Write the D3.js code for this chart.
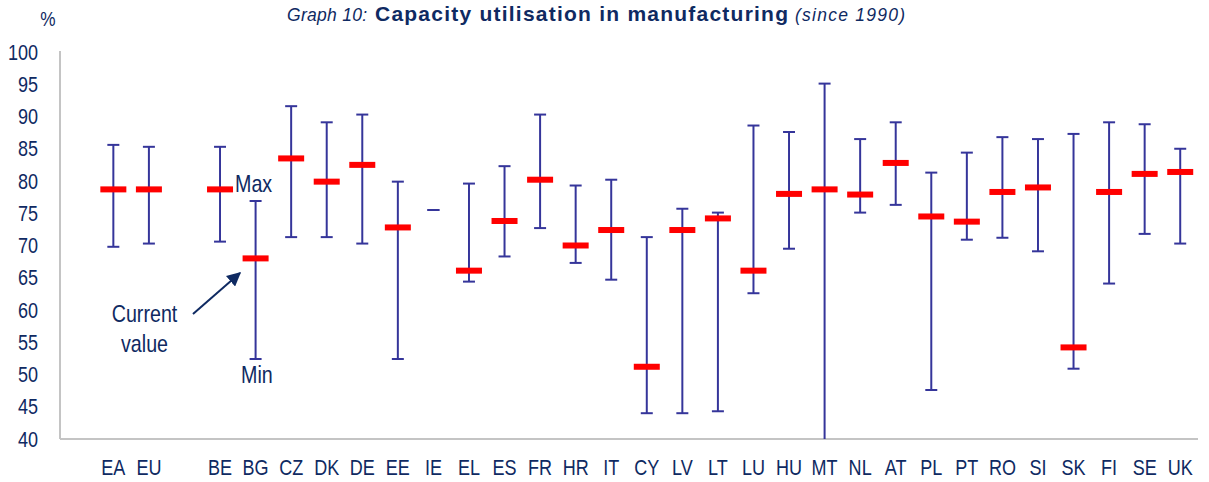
<!DOCTYPE html>
<html>
<head>
<meta charset="utf-8">
<script src="https://cdn.jsdelivr.net/npm/d3@7"></script>
<style>
  html, body { margin: 0; padding: 0; background: #ffffff; }
  svg { display: block; }
  text { font-family: "Liberation Sans", Arial, sans-serif; fill: #0f2a62; }
</style>
</head>
<body>
<svg id="chart" width="1209" height="482"></svg>
<script>
// ---- data ----
const categories = ["EA","EU","","BE","BG","CZ","DK","DE","EE","IE","EL","ES","FR","HR","IT","CY","LV","LT","LU","HU","MT","NL","AT","PL","PT","RO","SI","SK","FI","SE","UK"];
const maxValues  = [85.6,85.3,null,85.3,76.9,91.6,89.1,90.3,79.9,75.5,79.6,82.3,90.3,79.3,80.2,71.3,75.7,75.1,88.6,87.6,95.1,86.5,89.1,81.3,84.4,86.8,86.5,87.3,89.1,88.8,85.0];
const minValues  = [69.8,70.3,null,70.6,52.4,71.3,71.3,70.3,52.4,75.5,64.4,68.3,72.7,67.3,64.7,44.0,44.0,44.3,62.6,69.5,36.0,75.1,76.3,47.6,70.9,71.2,69.1,50.9,64.1,71.8,70.3];
const currentValues = [78.7,78.7,null,78.7,68.0,83.5,79.9,82.5,72.8,null,66.1,73.8,80.2,70.0,72.4,51.2,72.4,74.2,66.1,78.0,78.7,77.9,82.8,74.5,73.7,78.3,79.0,54.2,78.3,81.1,81.4];
const yTicks = [40,45,50,55,60,65,70,75,80,85,90,95,100];

(function () {
const svg = d3.select("#chart");
const pl = 60, pr = 1198, pt = 52, pb = 439;
const keys = categories.map(c => c === "" ? "_gap" : c);
const x = d3.scaleBand().domain(["_pad"].concat(keys)).range([pl, pr]).padding(0);
const y = d3.scaleLinear().domain([40,100]).range([pb, pt]);
const cx = k => x(k) + x.bandwidth()/2;

const navy = "#0f2a62";
const whisk = "#35359a";
const SX = 0.82; // condensed look

function narrow(sel, px, py, size, anchor, txt) {
  return sel.append("text")
    .attr("transform", `translate(${px},${py}) scale(${SX},1)`)
    .attr("text-anchor", anchor).attr("font-size", size).text(txt);
}

const defs = svg.append("defs");
defs.append("clipPath").attr("id","plotclip")
  .append("rect").attr("x", pl).attr("y", 0).attr("width", pr-pl).attr("height", pb);

// title (three parts)
svg.append("text").attr("x", 287).attr("y", 21).attr("font-style","italic").attr("font-size",17.5)
  .attr("textLength", 80).attr("lengthAdjust","spacing").text("Graph 10:");
svg.append("text").attr("x", 375).attr("y", 21).attr("font-weight","bold").attr("font-size",21)
  .attr("textLength", 413).attr("lengthAdjust","spacing").text("Capacity utilisation in manufacturing");
svg.append("text").attr("x", 795).attr("y", 21).attr("font-style","italic").attr("font-size",17.5)
  .attr("textLength", 110).attr("lengthAdjust","spacing").text("(since 1990)");

narrow(svg, 48, 26, 21, "middle", "%");

// axes lines
svg.append("line").attr("x1", pl).attr("x2", pl).attr("y1", pt-1).attr("y2", pb)
  .attr("stroke","#c4c4c4").attr("stroke-width",2);
svg.append("line").attr("x1", pl).attr("x2", pr).attr("y1", pb).attr("y2", pb)
  .attr("stroke","#c4c4c4").attr("stroke-width",2);

// y tick labels
const gy = svg.append("g");
yTicks.forEach(t => narrow(gy, 38, y(t) + 7.5, 22, "end", t));

// x labels
const gx = svg.append("g");
categories.filter(c => c !== "").forEach(c => narrow(gx, cx(c), 475, 22, "middle", c));

// data rows
const rows = categories.map((c,i) => ({key: keys[i], max: maxValues[i], min: minValues[i], cur: currentValues[i]}))
  .filter(d => d.max != null);

const g = svg.append("g").attr("clip-path","url(#plotclip)");
const capW = 12;
g.selectAll("line.stem").data(rows).join("line").attr("class","stem")
  .attr("x1", d => cx(d.key)).attr("x2", d => cx(d.key))
  .attr("y1", d => y(d.max)).attr("y2", d => y(d.min))
  .attr("stroke", whisk).attr("stroke-width", 2);
g.selectAll("line.capt").data(rows).join("line").attr("class","capt")
  .attr("x1", d => cx(d.key) - capW/2).attr("x2", d => cx(d.key) + capW/2)
  .attr("y1", d => y(d.max)).attr("y2", d => y(d.max))
  .attr("stroke", whisk).attr("stroke-width", 2);
g.selectAll("line.capb").data(rows).join("line").attr("class","capb")
  .attr("x1", d => cx(d.key) - capW/2).attr("x2", d => cx(d.key) + capW/2)
  .attr("y1", d => y(d.min)).attr("y2", d => y(d.min))
  .attr("stroke", whisk).attr("stroke-width", 2);

const barW = 26, barH = 6;
g.selectAll("rect.cur").data(rows.filter(d => d.cur != null)).join("rect").attr("class","cur")
  .attr("x", d => cx(d.key) - barW/2).attr("y", d => y(d.cur) - barH/2)
  .attr("width", barW).attr("height", barH).attr("fill", "#ff0000");

// annotations
narrow(svg, 235, 192, 24, "start", "Max");
narrow(svg, 241, 383, 24, "start", "Min");
narrow(svg, 144.5, 322, 24, "middle", "Current");
narrow(svg, 144.5, 352, 24, "middle", "value");

defs.append("marker").attr("id","arrowhead")
  .attr("viewBox","0 0 10 10").attr("refX",9).attr("refY",5)
  .attr("markerWidth",7).attr("markerHeight",7).attr("markerUnits","strokeWidth").attr("orient","auto")
  .append("path").attr("d","M0,0 L10,5 L0,10 z").attr("fill", navy);
svg.append("line").attr("x1",193).attr("y1",314).attr("x2",240).attr("y2",273)
  .attr("stroke", navy).attr("stroke-width",2).attr("marker-end","url(#arrowhead)");
})();
</script>
</body>
</html>
